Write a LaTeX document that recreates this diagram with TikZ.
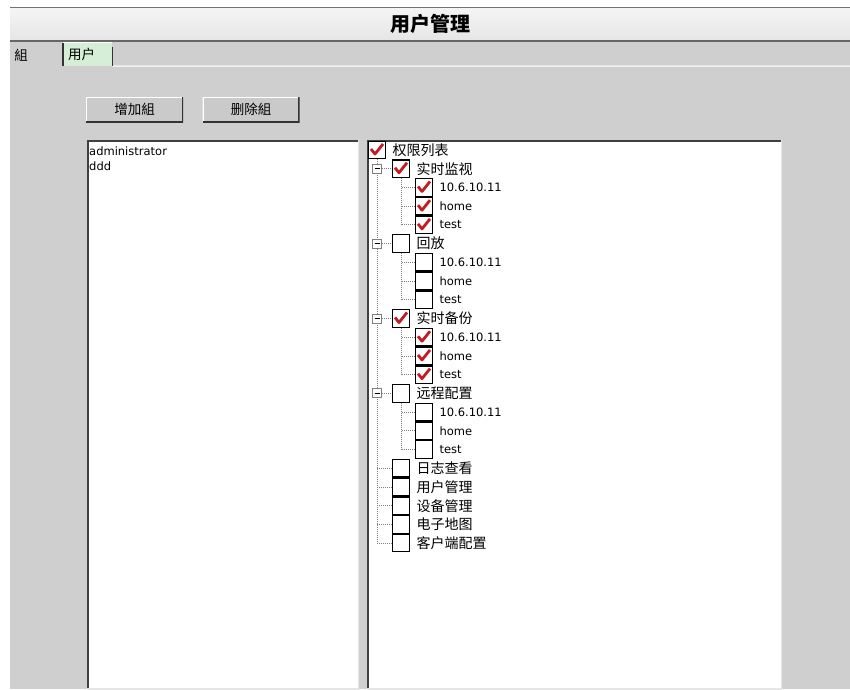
\documentclass[tikz,border=0pt]{standalone}
\usepackage{fontspec}
\setmainfont{DejaVu Sans}
\newfontfamily\cjk{Noto Sans CJK SC}
\usetikzlibrary{positioning}

\definecolor{panelgray}{RGB}{207,207,207}
\definecolor{buttongray}{RGB}{202,202,202}
\definecolor{tabgreen}{RGB}{214,238,214}
\definecolor{tickred}{RGB}{196,28,36}
\definecolor{dotgray}{RGB}{128,128,128}

\begin{document}
\begin{tikzpicture}
  [
    x=1pt,y=-1pt,
    cbox/.style={draw=black,line width=1.2pt,fill=white,minimum size=17.5pt,inner sep=0pt},
    ticked/.style={path picture={\draw[tickred,line width=2.8pt,line join=round]
        ([shift={(-6pt,1pt)}]path picture bounding box.center) -- ++(4pt,-5pt) -- ++(8pt,10pt);}},
    unticked/.style={},
    expander/.style={draw=dotgray,line width=0.8pt,fill=white,minimum size=9pt,inner sep=0pt,
      path picture={\draw[black,line width=0.8pt] ([xshift=-2.5pt]path picture bounding box.center)
        -- ([xshift=2.5pt]path picture bounding box.center);}},
    treeline/.style={dotgray,line width=0.8pt,dash pattern=on 1pt off 1pt},
    cjklabel/.style={anchor=west,inner sep=0pt,font=\cjk\fontsize{14}{14}\selectfont},
    latinlabel/.style={anchor=west,inner sep=0pt,font=\fontsize{11.5}{12}\selectfont},
    button/.style={rectangle,fill=buttongray,minimum width=97pt,minimum height=25pt,inner sep=0pt,
      font=\cjk\fontsize{13.5}{14}\selectfont,
      path picture={
        \draw[white,line width=2pt] (path picture bounding box.south west)
          -- (path picture bounding box.north west) -- (path picture bounding box.north east);
        \draw[black!80,line width=3pt] (path picture bounding box.south west)
          -- (path picture bounding box.south east) -- (path picture bounding box.north east);}},
    listbox/.style={rectangle,fill=white,inner sep=0pt,
      path picture={
        \draw[black!75,line width=3.5pt] (path picture bounding box.south west)
          -- (path picture bounding box.north west) -- (path picture bounding box.north east);
        \draw[black!10,line width=2pt] (path picture bounding box.north east)
          -- (path picture bounding box.south east) -- (path picture bounding box.south west);}},
  ]
  \useasboundingbox (0,0) rectangle (850,689);
  \fill[white] (0,0) rectangle (850,689);
  \fill[panelgray] (10,41) rectangle (850,689);

  % title bar
  \shade[top color=black!4,middle color=black!26,bottom color=black!10] (10,7) rectangle (850,41);
  \draw[black!55,line width=1pt] (10,7) -- (850,7);
  \draw[black!60,line width=1.2pt] (10,41) -- (850,41);
  \node[font=\cjk\bfseries\fontsize{20}{20}\selectfont] (title) at (430,24) {用户管理};

  % tabs
  \node[font=\cjk\fontsize{13.5}{14}\selectfont] (grouptab) at (21,55) {組};
  \node[fill=tabgreen,minimum height=23pt,text width=39pt,inner xsep=5pt,inner ysep=0pt,align=left,
    font=\cjk\fontsize{13.5}{14}\selectfont] (usertab) at (87.5,54.5) {用户};
  \coordinate (stripend) at (850,66);
  \draw[black!5,line width=1.5pt] (usertab.south east) -- (stripend);
  \draw[white,line width=1pt] (usertab.north west) -- (usertab.north east);
  \draw[black!80,line width=1.5pt] (usertab.south west) -- (usertab.north west);
  \draw[black!80,line width=1.2pt] ([yshift=-4pt]usertab.north east) -- (usertab.south east);

  % buttons
  \node[button] (addgroup) at (134.5,109.5) {增加組};
  \node[button] (delgroup) at (251,109.5) {删除組};

  % group list
  \node[listbox,minimum width=272pt,minimum height=549pt] (grouplist) at (223,414.5) {};
  \node[latinlabel] (admin) at (89,151) {administrator};
  \node[latinlabel] (ddd) at (89,166) {ddd};

  % permission tree
  \node[listbox,minimum width=415pt,minimum height=549pt] (permtree) at (574.5,414.5) {};
  \coordinate (treeend) at (377,543);
  \node[cbox,ticked] (root) at (377,150) {};
  \node[cjklabel,right=6pt of root] (rootlabel) {权限列表};
  \draw[treeline] (root.south) -- (treeend);

  \foreach \g/\rownum/\grouplabel/\boxstate in
    {a/1/实时监视/ticked,b/5/回放/unticked,c/9/实时备份/ticked,d/13/远程配置/unticked}
  {
    \node[expander] (x\g) at (377,{150+18.72*\rownum}) {};
    \node[cbox,\boxstate] (g\g) at (401,{150+18.72*\rownum}) {};
    \node[cjklabel,right=6pt of g\g] {\grouplabel};
    \draw[treeline] (x\g) -- (g\g);
    \foreach \k/\sub in {1/10.6.10.11,2/home,3/test}
    {
      \node[cbox,\boxstate] (s\g\k) at (424,{150+18.72*(\rownum+\k)}) {};
      \node[latinlabel,right=6pt of s\g\k] {\sub};
      \draw[treeline] (s\g\k.west) -- (g\g |- s\g\k);
    }
    \draw[treeline] (g\g.south) -- (g\g |- s\g3);
  }

  \foreach \rownum/\grouplabel in {17/日志查看,18/用户管理,19/设备管理,20/电子地图,21/客户端配置}
  {
    \node[cbox] (t\rownum) at (401,{150+18.72*\rownum}) {};
    \node[cjklabel,right=6pt of t\rownum] {\grouplabel};
    \draw[treeline] (t\rownum.west) -- (root |- t\rownum);
  }
\end{tikzpicture}
\end{document}
